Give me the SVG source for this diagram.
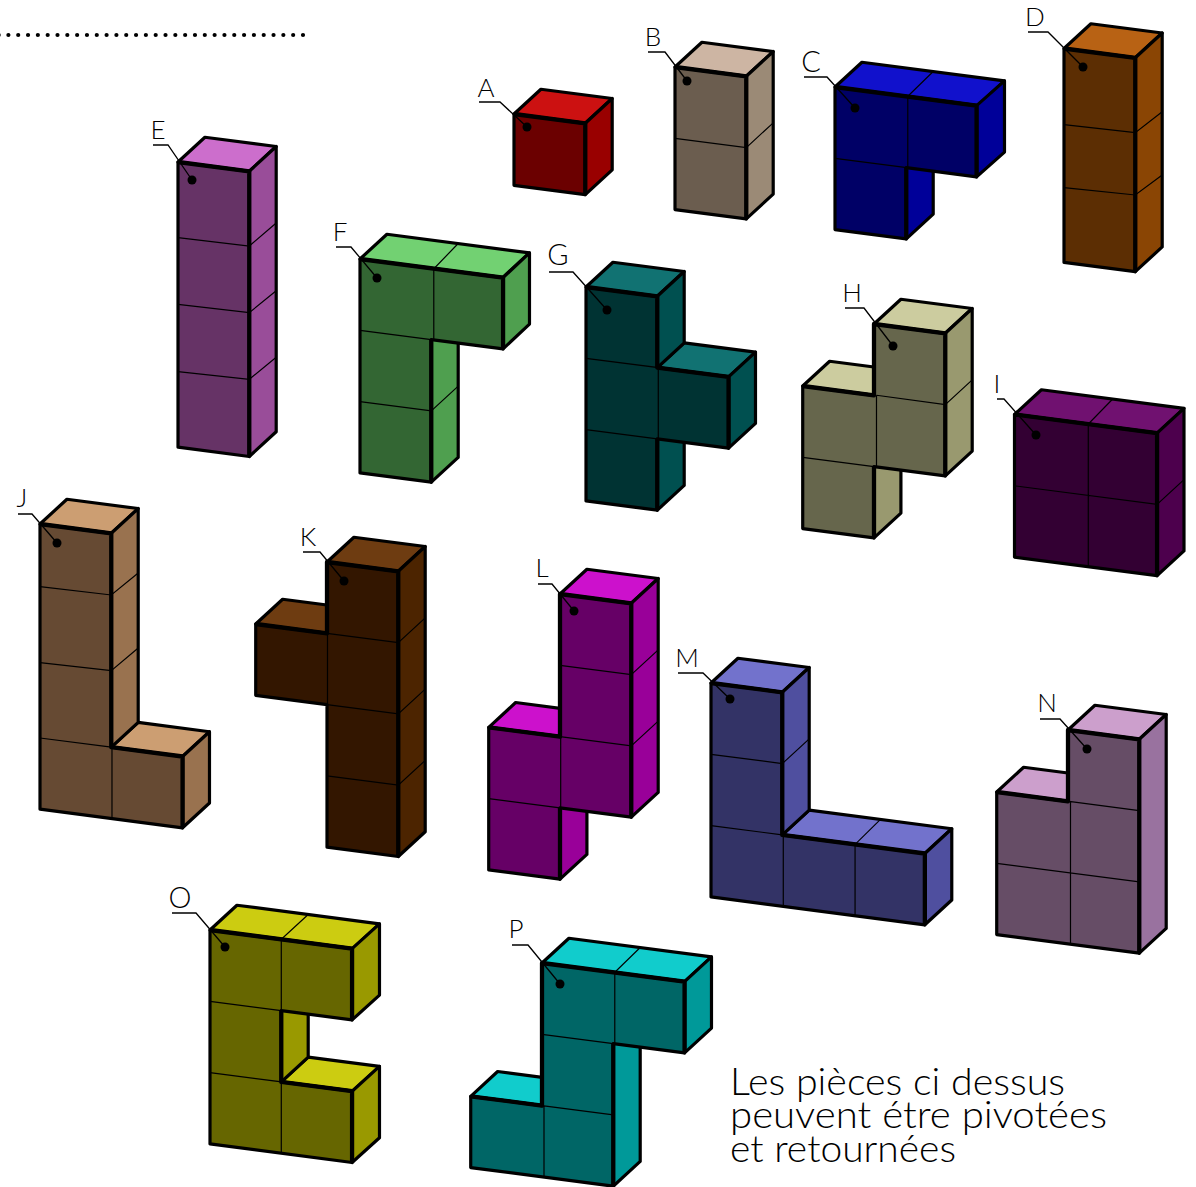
<svg xmlns="http://www.w3.org/2000/svg" width="1196" height="1187" viewBox="0 0 1196 1187">
<style>
text{font-family:"Lato","Liberation Sans",sans-serif;font-weight:300;fill:#000}
.lab{font-size:26px;text-anchor:middle}
.wide{font-size:29px}
.note{font-size:37px}
.t,.s,.f{stroke:#000;stroke-width:3.2;stroke-linejoin:round}
.t{fill:var(--t)}.s{fill:var(--s)}.f{fill:var(--f)}
.thin{fill:none;stroke:#000;stroke-width:1.2}
.ridge{fill:none;stroke:#000;stroke-width:4.3;stroke-linejoin:round}
.lead{fill:none;stroke:#000;stroke-width:1.3}
#A{--f:#6b0000;--t:#cc1111;--s:#990000}
#B{--f:#6b5d4f;--t:#cdb5a3;--s:#9b8a76}
#C{--f:#000066;--t:#1111cc;--s:#000099}
#D{--f:#5c2e03;--t:#b86214;--s:#8a4504}
#E{--f:#663366;--t:#cc6ecc;--s:#994d99}
#F{--f:#336633;--t:#72d172;--s:#4f9f4f}
#G{--f:#003333;--t:#117272;--s:#005050}
#H{--f:#66664c;--t:#cccc9f;--s:#99996f}
#I{--f:#330033;--t:#701170;--s:#4d004d}
#J{--f:#664a33;--t:#cc9e72;--s:#99724f}
#K{--f:#331600;--t:#6e3c11;--s:#4c2400}
#L{--f:#660066;--t:#cc11cc;--s:#990099}
#M{--f:#333366;--t:#7272cc;--s:#4f4f9f}
#N{--f:#664d66;--t:#cc9fcc;--s:#99729f}
#O{--f:#666600;--t:#cccc11;--s:#999900}
#P{--f:#006666;--t:#11cccc;--s:#009999}
</style>
<defs>
<polygon id="t1" class="t" points="0,0 27,-24.5 98.5,-14.5 71.5,10"/>
<polygon id="t2" class="t" points="0,0 27,-24.5 170,-4.5 143,20"/>
</defs>
<line x1="303" y1="35" x2="-6" y2="35" stroke="#000" stroke-width="4.2" stroke-linecap="round" stroke-dasharray="0 9.82"/>

<g id="A"><g transform="translate(514,114) matrix(.997 -.0098 0 1 0 0)">
<use href="#t1"/>
<polygon class="s" points="71.5,10 98.5,-14.5 98.5,56.8 71.5,81.3"/>
<polygon class="f" points="0,0 71.5,10 71.5,81.3 0,71.3"/>
<polyline class="ridge" points="0,0 71.5,10 71.5,81.3"/>
</g><text class="lab" x="486" y="97">A</text></g>

<g id="B"><g transform="translate(675,67) matrix(.997 -.0098 0 1 0 0)">
<use href="#t1"/>
<polygon class="s" points="71.5,10 98.5,-14.5 98.5,128.1 71.5,152.6"/>
<polygon class="f" points="0,0 71.5,10 71.5,152.6 0,142.6"/>
<path class="thin" d="M0,71.3L71.5,81.3L98.5,56.8"/>
<polyline class="ridge" points="0,0 71.5,10 71.5,152.6"/>
</g><text class="lab" x="653" y="46">B</text></g>

<g id="C"><g transform="translate(835,87) matrix(.997 -.0098 0 1 0 0)">
<use href="#t2"/>
<polygon class="s" points="142,20 170,-4.5 170,66.8 142,91.3"/>
<polygon class="s" points="71.5,81.3 98.5,56.8 98.5,128.1 71.5,152.6"/>
<polygon class="f" points="0,0 142,20 142,91.3 71.5,81.3 71.5,152.6 0,142.6"/>
<path class="thin" d="M98.5,-14.5L73,10V81.3M0,71.3L72,81.3"/>
<path class="ridge" d="M0,0L142,20V91.3M71.5,81.3V152.6"/>
</g><text class="lab wide" x="811" y="72">C</text></g>

<g id="D"><g transform="translate(1064,48.5) matrix(.997 -.0098 0 1 0 0)">
<use href="#t1"/>
<polygon class="s" points="71.5,10 98.5,-14.5 98.5,199.4 71.5,223.9"/>
<polygon class="f" points="0,0 71.5,10 71.5,223.9 0,213.9"/>
<path class="thin" d="M0,76.2L71.5,84.9L98.5,64.2M0,139.2L71.5,147.2L98.5,127.5"/>
<polyline class="ridge" points="0,0 71.5,10 71.5,223.9"/>
</g><text class="lab" x="1035" y="26">D</text></g>

<g id="E"><g transform="translate(178,162) matrix(.997 -.0098 0 1 0 0)">
<use href="#t1"/>
<polygon class="s" points="71.5,10 98.5,-14.5 98.5,270.7 71.5,295.2"/>
<polygon class="f" points="0,0 71.5,10 71.5,295.2 0,285.2"/>
<path class="thin" d="M0,75.7L71.5,84.7L98.5,62M0,142.3L71.5,151.4L98.5,129.7M0,209.7L71.5,218L98.5,196.3"/>
<polyline class="ridge" points="0,0 71.5,10 71.5,295.2"/>
</g><text class="lab" x="158" y="139">E</text></g>

<g id="F"><g transform="translate(360,259) matrix(.997 -.0098 0 1 0 0)">
<use href="#t2"/>
<polygon class="s" points="143.5,20 170,-4.5 170,66.8 143.5,91.3"/>
<polygon class="s" points="71.5,81.3 98.5,56.8 98.5,199.4 71.5,223.9"/>
<polygon class="f" points="0,0 143.5,20 143.5,91.3 71.5,81.3 71.5,223.9 0,213.9"/>
<path class="thin" d="M98.5,-14.5L74,10.5V81.3M0,71.3L71.5,81.3M0,142.6L71.5,152.6L98.5,128.1"/>
<path class="ridge" d="M0,0L143.5,20V91.3M71.5,81.3V223.9"/>
</g><text class="lab" x="340" y="241">F</text></g>

<g id="G"><g transform="translate(586,287) matrix(.997 -.0098 0 1 0 0)">
<use href="#t1"/>
<polygon class="t" points="71.5,81.3 98.5,56.8 170,66.8 143,91.3"/>
<polygon class="s" points="71.5,10 98.5,-14.5 98.5,56.8 71.5,81.3"/>
<polygon class="s" points="143,91.3 170,66.8 170,138.1 143,162.6"/>
<polygon class="s" points="71.5,152.6 98.5,128.1 98.5,199.4 71.5,223.9"/>
<polygon class="f" points="0,0 71.5,10 71.5,81.3 143,91.3 143,162.6 71.5,152.6 71.5,223.9 0,213.9"/>
<path class="thin" d="M0,71.3L72.5,81.3V152.6M0,142.6L71.5,152.6"/>
<path class="ridge" d="M0,0L71.5,10V81.3L143,91.3V162.6M71.5,152.6V223.9"/>
</g><text class="lab wide" x="558" y="265">G</text></g>

<g id="H"><g transform="translate(874,324) matrix(.997 -.0098 0 1 0 0)">
<use href="#t1"/>
<polygon class="t" points="-71.5,61.3 -44.5,36.8 27,46.8 0,71.3"/>
<polygon class="s" points="71.5,10 98.5,-14.5 98.5,128.1 71.5,152.6"/>
<polygon class="s" points="0,142.6 27,118.1 27,189.4 0,213.9"/>
<polygon class="f" points="0,0 71.5,10 71.5,152.6 0,142.6 0,213.9 -71.5,203.9 -71.5,61.3 0,71.3"/>
<path class="thin" d="M2.5,71.3L71.5,81.3L98.5,56.8M2.5,71.3V142.9M-71.5,132.6L0,142.6"/>
<path class="ridge" d="M-71.5,61.3L0,71.3V0L71.5,10V152.6M0,142.6V213.9"/>
</g><text class="lab" x="852" y="302">H</text></g>

<g id="I"><g transform="translate(1014.5,414.5) matrix(.997 -.0098 0 1 0 0)">
<use href="#t2"/>
<polygon class="s" points="143,20 170,-4.5 170,138.1 143,162.6"/>
<polygon class="f" points="0,0 143,20 143,162.6 0,142.6"/>
<path class="thin" d="M98.5,-14.5L74,10.3V152.9M0,71.3L143,91.3L170,66.8"/>
<polyline class="ridge" points="0,0 143,20 143,162.6"/>
</g><text class="lab" x="997" y="393">I</text></g>

<g id="J"><g transform="translate(40,524) matrix(.997 -.0098 0 1 0 0)">
<use href="#t1"/>
<polygon class="t" points="71.5,223.9 98.5,199.4 170,209.4 143,233.9"/>
<polygon class="s" points="71.5,10 98.5,-14.5 98.5,199.4 71.5,223.9"/>
<polygon class="s" points="143,233.9 170,209.4 170,280.7 143,305.2"/>
<polygon class="f" points="0,0 71.5,10 71.5,223.9 143,233.9 143,305.2 0,285.2"/>
<path class="thin" d="M0,62.7L71.5,71.7L98.5,50M0,138.7L71.5,147.4L98.5,125M0,214L71.5,223.9M72.2,224V295.3"/>
<polyline class="ridge" points="0,0 71.5,10 71.5,223.9 143,233.9 143,305.2"/>
</g><text class="lab" x="22" y="507">J</text></g>

<g id="K"><g transform="translate(327,562) matrix(.997 -.0098 0 1 0 0)">
<use href="#t1"/>
<polygon class="t" points="-71.5,61.3 -44.5,36.8 27,46.8 0,71.3"/>
<polygon class="s" points="71.5,10 98.5,-14.5 98.5,270.7 71.5,295.2"/>
<polygon class="f" points="0,0 71.5,10 71.5,295.2 0,285.2 0,142.6 -71.5,132.6 -71.5,61.3 0,71.3"/>
<path class="thin" d="M0,71.3L71.5,81.3L98.5,56.8M0,142.6L71.5,152.6L98.5,128.1M0,213.9L71.5,223.9L98.5,199.4M.5,71.3V142.6"/>
<path class="ridge" d="M-71.5,61.3L0,71.3V0L71.5,10V295.2"/>
</g><text class="lab" x="308" y="546">K</text></g>

<g id="L"><g transform="translate(560,594) matrix(.997 -.0098 0 1 0 0)">
<use href="#t1"/>
<polygon class="t" points="-71.5,132.6 -44.5,108.1 27,118.1 0,142.6"/>
<polygon class="s" points="71.5,10 98.5,-14.5 98.5,199.4 71.5,223.9"/>
<polygon class="s" points="0,213.9 27,189.4 27,260.7 0,285.2"/>
<polygon class="f" points="0,0 71.5,10 71.5,223.9 0,213.9 0,285.2 -71.5,275.2 -71.5,132.6 0,142.6"/>
<path class="thin" d="M0,71.3L71.5,81.3L98.5,56.8M0,142.6L71.5,152.6L98.5,128.1M-71.5,203.9L0,213.9M.7,142.6V213.9"/>
<path class="ridge" d="M-71.5,132.6L0,142.6V0L71.5,10V223.9M0,213.9V285.2"/>
</g><text class="lab" x="542" y="577">L</text></g>

<g id="M"><g transform="translate(711,683) matrix(.997 -.0098 0 1 0 0)">
<use href="#t1"/>
<polygon class="t" points="71.5,152.6 98.5,128.1 241.5,148.1 214.5,172.6"/>
<polygon class="s" points="71.5,10 98.5,-14.5 98.5,128.1 71.5,152.6"/>
<polygon class="s" points="214.5,172.6 241.5,148.1 241.5,219.4 214.5,243.9"/>
<polygon class="f" points="0,0 71.5,10 71.5,152.6 214.5,172.6 214.5,243.9 0,213.9"/>
<path class="thin" d="M0,71.3L71.5,81.3L98.5,56.8M0,142.6L71.5,152.6M72.5,152.8V224M170,138.1L144.5,162.8V234"/>
<polyline class="ridge" points="0,0 71.5,10 71.5,152.6 214.5,172.6 214.5,243.9"/>
</g><text class="lab" x="687" y="667">M</text></g>

<g id="N"><g transform="translate(1068,730) matrix(.997 -.0098 0 1 0 0)">
<use href="#t1"/>
<polygon class="t" points="-71.5,61.3 -44.5,36.8 27,46.8 0,71.3"/>
<polygon class="s" points="71.5,10 98.5,-14.5 98.5,199.4 71.5,223.9"/>
<polygon class="f" points="0,0 71.5,10 71.5,223.9 -71.5,203.9 -71.5,61.3 0,71.3"/>
<path class="thin" d="M1,71.3L71.5,81.3M-71.5,132.6L71.5,152.6M2.5,71.3V214"/>
<path class="ridge" d="M-71.5,61.3L0,71.3V0L71.5,10V223.9"/>
</g><text class="lab" x="1047" y="712">N</text></g>

<g id="O"><g transform="translate(210,930) matrix(.997 -.0098 0 1 0 0)">
<use href="#t2"/>
<polygon class="t" points="71.5,152.6 98.5,128.1 170,138.1 143,162.6"/>
<polygon class="s" points="142.5,20 170,-4.5 170,66.8 142.5,91.3"/>
<polygon class="s" points="71.5,81.3 98.5,56.8 98.5,128.1 71.5,152.6"/>
<polygon class="s" points="142.5,162.6 170,138.1 170,209.4 142.5,233.9"/>
<polygon class="f" points="0,0 142.5,20 142.5,91.3 71.5,81.3 71.5,152.6 142.5,162.6 142.5,233.9 0,213.9"/>
<path class="thin" d="M98.5,-14.5L71.5,10V81.3M0,71.3L71.5,81.3M0,142.6L71.5,152.6V223.9"/>
<path class="ridge" d="M0,0L142.5,20V91.3M71.5,81.3V152.6L142.5,162.6V233.9"/>
</g><text class="lab wide" x="180" y="908">O</text></g>

<g id="P"><g transform="translate(542,963) matrix(.997 -.0098 0 1 0 0)">
<use href="#t2"/>
<polygon class="t" points="-71.5,132.6 -44.5,108.1 27,118.1 0,142.6"/>
<polygon class="s" points="143,20 170,-4.5 170,66.8 143,91.3"/>
<polygon class="s" points="71.5,81.3 98.5,56.8 98.5,199.4 71.5,223.9"/>
<polygon class="f" points="0,0 143,20 143,91.3 71.5,81.3 71.5,223.9 -71.5,203.9 -71.5,132.6 0,142.6"/>
<path class="thin" d="M98.5,-14.5L73,10V81.3M0,71.3L71.5,81.3M0,142.6L71.5,152.6M2,142.6V213.9"/>
<path class="ridge" d="M-71.5,132.6L0,142.6V0L143,20V91.3M71.5,81.3V223.9"/>
</g><text class="lab" x="516" y="938">P</text></g>

<g id="connectors">
<path class="lead" d="M479,102H500L527,127"/><circle cx="527" cy="127" r="4.5"/>
<path class="lead" d="M648,52H665L687,81"/><circle cx="687" cy="81" r="4.5"/>
<path class="lead" d="M804,77H827L855,108"/><circle cx="855" cy="108" r="4.5"/>
<path class="lead" d="M1028,32H1048L1083,67"/><circle cx="1083" cy="67" r="4.5"/>
<path class="lead" d="M153,145H168L192,180"/><circle cx="192" cy="180" r="4.5"/>
<path class="lead" d="M336,247H351L377,278"/><circle cx="377" cy="278" r="4.5"/>
<path class="lead" d="M549,272H573L607,310"/><circle cx="607" cy="310" r="4.5"/>
<path class="lead" d="M845,308H864L893,346"/><circle cx="893" cy="346" r="4.5"/>
<path class="lead" d="M997,399H1004L1036,435"/><circle cx="1036" cy="435" r="4.5"/>
<path class="lead" d="M18,514H32L57,543"/><circle cx="57" cy="543" r="4.5"/>
<path class="lead" d="M303,552H320L344,581"/><circle cx="344" cy="581" r="4.5"/>
<path class="lead" d="M538,584H552L574,611"/><circle cx="574" cy="611" r="4.5"/>
<path class="lead" d="M678,673H703L730,699"/><circle cx="730" cy="699" r="4.5"/>
<path class="lead" d="M1040,719H1060L1087,749"/><circle cx="1087" cy="749" r="4.5"/>
<path class="lead" d="M172,913H196L225,947"/><circle cx="225" cy="947" r="4.5"/>
<path class="lead" d="M512,945H528L560,984"/><circle cx="560" cy="984" r="4.5"/>
</g>

<g id="note">
<text class="note"><tspan x="730" y="1095" textLength="335" lengthAdjust="spacingAndGlyphs">Les pièces ci dessus</tspan><tspan x="730" y="1128" textLength="377" lengthAdjust="spacingAndGlyphs">peuvent étre pivotées</tspan><tspan x="730" y="1162" textLength="226" lengthAdjust="spacingAndGlyphs">et retournées</tspan></text>
</g>
</svg>
